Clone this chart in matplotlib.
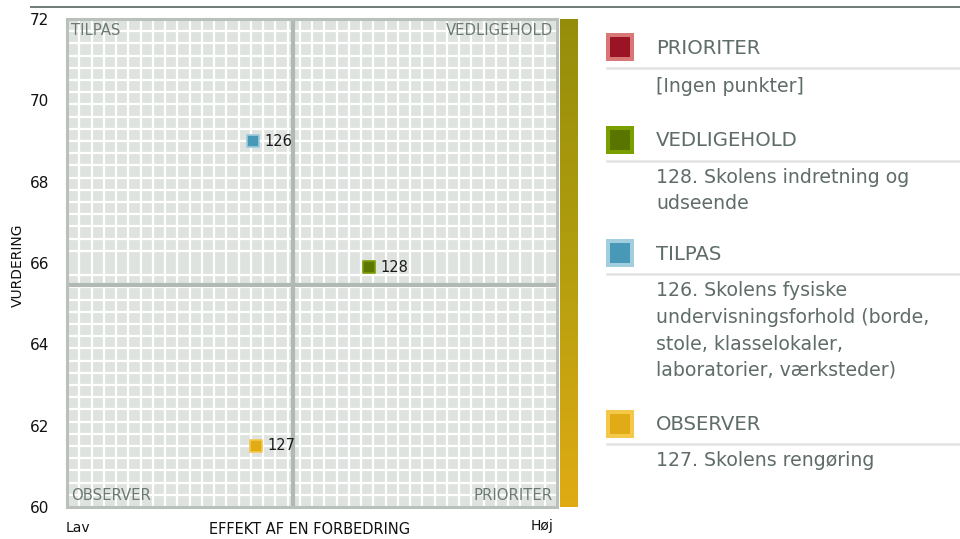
import numpy as np
import matplotlib
matplotlib.use("Agg")
import matplotlib.pyplot as plt
from matplotlib.colors import LinearSegmentedColormap
from matplotlib.patches import Rectangle
from matplotlib.lines import Line2D

# data
point_ids = ["126", "128", "127"]
effekt = [38.0, 61.6, 38.6]
vurdering = [69.0, 65.9, 61.5]
point_fill = ["#4799b7", "#5d7800", "#e2ab16"]
point_edge = ["#9fcbdc", "#7b9f00", "#f3c94a"]

y_ticks = [60, 62, 64, 66, 68, 70, 72]
x_split = 46.1
y_split = 65.45

quadrants = ["PRIORITER", "VEDLIGEHOLD", "TILPAS", "OBSERVER"]
quad_inner = ["#9a1426", "#5a7400", "#4799b7", "#e0ab14"]
quad_outer = ["#d97676", "#7c9f00", "#a2cede", "#f4c94a"]
quad_items = [
    ["[Ingen punkter]"],
    ["128. Skolens indretning og", "udseende"],
    ["126. Skolens fysiske", "undervisningsforhold (borde,",
     "stole, klasselokaler,", "laboratorier, værksteder)"],
    ["127. Skolens rengøring"],
]

W, H = 960, 539
fig = plt.figure(figsize=(W / 100, H / 100), dpi=100)
plt.rcParams["font.family"] = ["DejaVu Sans"]

def fx(px):
    return px / W

def fy(py):
    return 1 - py / H

# hovedplot
ax = fig.add_axes([fx(67), fy(507), fx(490), 488 / H])
ax.set_xlim(0, 100)
ax.set_ylim(60, 72)
ax.set_facecolor("#dfe3e0")
ax.set_xticks(np.linspace(0, 100, 41), minor=True)
ax.set_yticks(np.linspace(60, 72, 41), minor=True)
ax.grid(which="minor", color="white", linewidth=1.6)
ax.set_axisbelow(True)
ax.set_xticks([])
ax.set_yticks(y_ticks)
ax.set_yticklabels([str(v) for v in y_ticks], fontsize=11, color="#111111")
ax.tick_params(axis="y", which="both", length=0, pad=13)
ax.tick_params(axis="x", which="both", length=0)
for s in ax.spines.values():
    s.set_color("#bac1bd")
    s.set_linewidth(2.2)

ax.axvline(x_split, color="#b1b9b4", linewidth=3)
ax.axhline(y_split, color="#b1b9b4", linewidth=3)

ax.scatter(effekt, vurdering, marker="s", s=70, c=point_fill,
           edgecolors=point_edge, linewidths=1.2, zorder=5)
for pid, xv, yv in zip(point_ids, effekt, vurdering):
    ax.annotate(pid, (xv, yv), xytext=(8, 0), textcoords="offset points",
                va="center", ha="left", fontsize=10.5, color="#1a1a1a", zorder=6)

qc = "#6b7a72"
ax.text(0.008, 0.976, "TILPAS", transform=ax.transAxes, ha="left", va="center", fontsize=10.7, color=qc)
ax.text(0.992, 0.976, "VEDLIGEHOLD", transform=ax.transAxes, ha="right", va="center", fontsize=10.7, color=qc)
ax.text(0.008, 0.024, "OBSERVER", transform=ax.transAxes, ha="left", va="center", fontsize=10.7, color=qc)
ax.text(0.992, 0.024, "PRIORITER", transform=ax.transAxes, ha="right", va="center", fontsize=10.7, color=qc)

fig.text(fx(18), fy(265), "VURDERING", rotation=90, ha="center", va="center", fontsize=10, color="#111111")
fig.text(fx(78), fy(528), "Lav", ha="center", va="center", fontsize=10, color="#111111")
fig.text(fx(542), fy(526), "Høj", ha="center", va="center", fontsize=10, color="#111111")
fig.text(fx(310), fy(530), "EFFEKT AF EN FORBEDRING", ha="center", va="center", fontsize=10.5, color="#111111")

# farvebjælke
cax = fig.add_axes([fx(560), fy(507), fx(18), 488 / H])
cmap = LinearSegmentedColormap.from_list("bar", ["#958d0a", "#b39e0e", "#e0ab14"])
cax.imshow(np.linspace(0, 1, 256).reshape(-1, 1), aspect="auto", cmap=cmap)
cax.set_axis_off()

# top-linje
fig.add_artist(Line2D([fx(31), 1], [fy(7), fy(7)], color="#6f7a74", linewidth=1.4))

# forklaring
txt = "#5f6d66"
head_y = [47, 140, 253, 424]
sep_y = [68, 161, 274, 444]
body_y = [86, 177, 291, 461]
for q, inner, outer, items, hy, sy, by in zip(quadrants, quad_inner, quad_outer,
                                               quad_items, head_y, sep_y, body_y):
    fig.add_artist(Rectangle((fx(606), fy(hy + 14)), fx(28), 28 / H,
                             facecolor=outer, edgecolor="none"))
    fig.add_artist(Rectangle((fx(610), fy(hy + 10)), fx(20), 20 / H,
                             facecolor=inner, edgecolor="none"))
    fig.text(fx(656), fy(hy + 1), q, ha="left", va="center", fontsize=14.2, color=txt)
    fig.add_artist(Line2D([fx(607), 1], [fy(sy), fy(sy)], color="#e2e2e2", linewidth=1.8))
    for i, line in enumerate(items):
        fig.text(fx(656), fy(by + i * 26.5), line, ha="left", va="center",
                 fontsize=13.6, color=txt)

fig.savefig("out.png", dpi=100)
